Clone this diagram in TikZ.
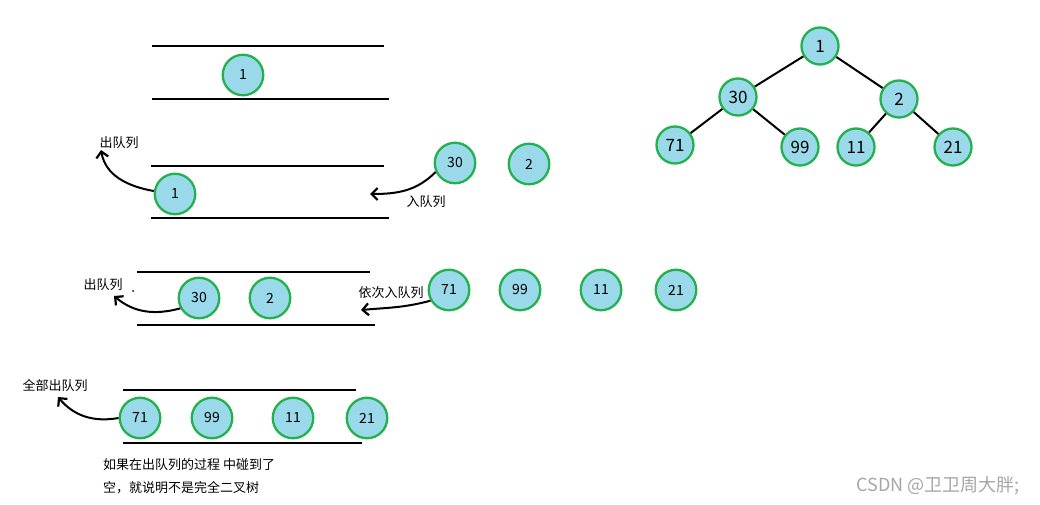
\documentclass[tikz,border=0pt]{standalone}
\usepackage{fontspec}
\setmainfont{Noto Sans CJK SC}
\usepackage{tikz}
\usetikzlibrary{arrows.meta}
\definecolor{ballFill}{HTML}{99D9EA}
\definecolor{ballEdge}{HTML}{22B14C}
\colorlet{markGray}{black!35}
\tikzset{
  ball/.style={circle,draw=ballEdge,fill=ballFill,line width=2.3pt,
    minimum size=40.5pt,inner sep=0pt,font=\fontsize{14}{14}\selectfont},
  tree ball/.style={ball,minimum size=37pt,font=\fontsize{17}{17}\selectfont},
  wall/.style={line width=1.8pt},
  branch/.style={line width=2pt},
  hop/.style={line width=2pt,-{Straight Barb[length=6pt,width=12pt,line width=2.2pt]}},
  note/.style={inner sep=1pt,font=\fontsize{13}{13}\selectfont},
}

\begin{document}
\begin{tikzpicture}[x=1pt,y=1pt]
\useasboundingbox (0,0) rectangle (1040,-505);
% queue walls
\foreach \ytop/\ybot/\xl/\xr/\xrr in {46/99/152/384/389,166/218/151/384/389,272/325/137/370/375,390/443/123/356/362} {
  \draw[wall] (\xl,-\ytop) -- (\xr,-\ytop);
  \draw[wall] (\xl,-\ybot) -- (\xrr,-\ybot);
}
% step 1
\node[ball] (a1) at (243,-75) {1};
% step 2
\node[ball] (b1) at (175,-194) {1};
\node[ball] (b30) at (455,-163) {30};
\node[ball] (b2) at (529,-164) {2};
% step 3
\foreach \n/\x/\y in {30/199/298,2/270/298,71/449/290,99/520/290,11/601/290,21/676/290}
  \node[ball] (c\n) at (\x,-\y) {\n};
% step 4
\foreach \n/\x in {71/140,99/212,11/293,21/367}
  \node[ball] (d\n) at (\x,-418) {\n};

\node[note] (outA) at (119,-143) {出队列};
\node[note] (inA) at (426,-202) {入队列};
\node[note] (outB) at (103,-285) {出队列};
\node[note] (inB) at (391,-293) {依次入队列};
\node[note] (outC) at (55,-386) {全部出队列};
\fill (133,-291) circle (1pt);

\coordinate (tipA) at (101,-150);
\coordinate (tipB) at (370,-194);
\coordinate (tipC) at (114,-296);
\coordinate (tipD) at (361,-310);
\coordinate (tipE) at (58,-397);
\draw[hop] (b1.172) to[out=170,in=-80] (tipA);
\draw[hop] (b30.205) to[out=-135,in=0] (tipB);
\draw[hop] (c30.209) to[out=195,in=-40] (tipC);
\draw[hop] (c71.210) to[out=195,in=5] (tipD);
\draw[hop] (d71.180) to[out=190,in=-50] (tipE);

\node[note,anchor=west] (msgA) at (102,-465) {如果在出队列的过程 中碰到了};
\node[note,anchor=west] (msgB) at (102,-488) {空，就说明不是完全二叉树};

% the tree
\node[tree ball] (t1) at (820,-46) {1};
\node[tree ball] (t30) at (738,-97) {30};
\node[tree ball] (t2) at (899,-99) {2};
\node[tree ball] (t71) at (675,-145) {71};
\node[tree ball] (t99) at (800,-147) {99};
\node[tree ball] (t11) at (856,-147) {11};
\node[tree ball] (t21) at (953,-147) {21};
\foreach \p/\c in {t1/t30,t1/t2,t30/t71,t30/t99,t2/t11,t2/t21}
  \draw[branch] (\p) -- (\c);

\node[text=markGray,font=\fontsize{18}{18}\selectfont] (mark) at (938,-486) {CSDN @卫卫周大胖;};
\end{tikzpicture}
\end{document}
